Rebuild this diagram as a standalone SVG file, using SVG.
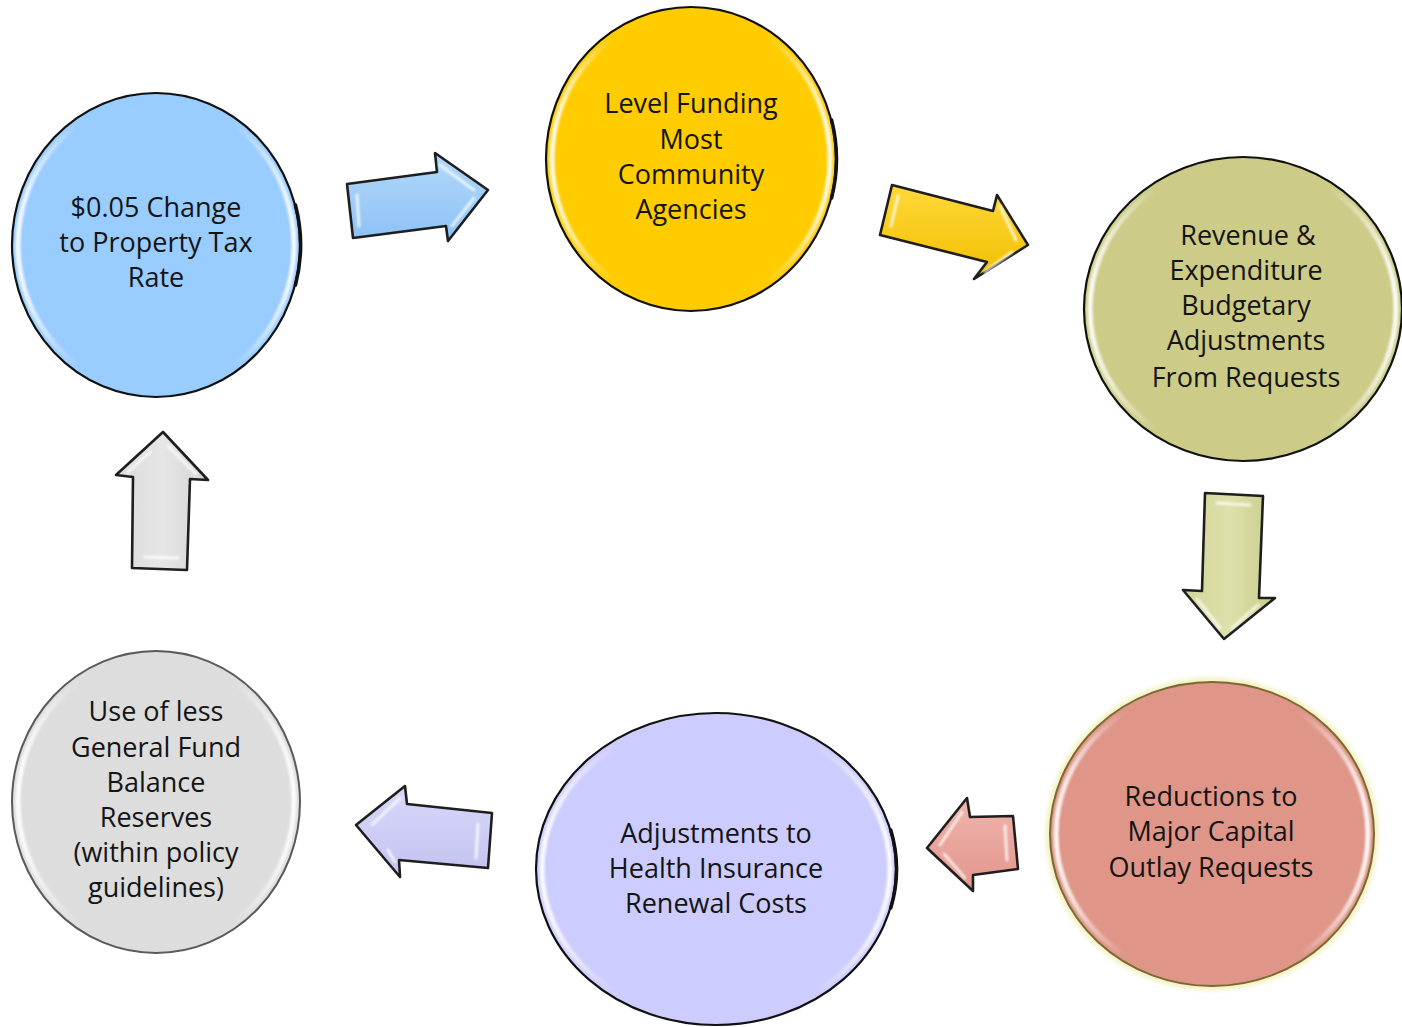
<svg xmlns="http://www.w3.org/2000/svg" width="1402" height="1027" viewBox="0 0 1402 1027">
<defs>
<style>
.lbl{font-family:"Open Sans","Noto Sans","Liberation Sans",sans-serif;font-size:27px;fill:#141414;text-anchor:middle}
.rim{fill:none;stroke:url(#rimG);stroke-width:5;filter:url(#soft)}
.arr{stroke:#1e1e1e;stroke-width:2.6;stroke-linejoin:round}
.gl{fill:none;stroke:#fff;stroke-opacity:0.75;stroke-width:3;stroke-linecap:round;filter:url(#soft)}
.shd{fill:none;stroke:#111;stroke-width:3.5;stroke-linecap:round}
</style>
<filter id="soft" x="-10%" y="-10%" width="120%" height="120%"><feGaussianBlur stdDeviation="1.3"/></filter>
<filter id="glow" x="-10%" y="-10%" width="120%" height="120%"><feGaussianBlur stdDeviation="2.5"/></filter>
<linearGradient id="rimG" x1="0" y1="0" x2="1" y2="0">
<stop offset="0" stop-color="#fff" stop-opacity="0.9"/>
<stop offset="0.22" stop-color="#fff" stop-opacity="0"/>
<stop offset="0.78" stop-color="#fff" stop-opacity="0"/>
<stop offset="1" stop-color="#fff" stop-opacity="0.9"/>
</linearGradient>
<linearGradient id="gBlue" x1="0" y1="0" x2="0" y2="1"><stop offset="0" stop-color="#B4D8FB"/><stop offset="1" stop-color="#8CC2F4"/></linearGradient>
<linearGradient id="gYel" x1="0" y1="0" x2="0" y2="1"><stop offset="0" stop-color="#FFD93A"/><stop offset="1" stop-color="#F1BE00"/></linearGradient>
<linearGradient id="gOli" x1="0" y1="0" x2="1" y2="0"><stop offset="0" stop-color="#D2D596"/><stop offset="0.5" stop-color="#DDE0AA"/><stop offset="1" stop-color="#CACD8C"/></linearGradient>
<linearGradient id="gPink" x1="0" y1="0" x2="0" y2="1"><stop offset="0" stop-color="#F0B4AC"/><stop offset="1" stop-color="#E2958C"/></linearGradient>
<linearGradient id="gPur" x1="0" y1="0" x2="0" y2="1"><stop offset="0" stop-color="#D8D8FB"/><stop offset="1" stop-color="#C2C2F0"/></linearGradient>
<linearGradient id="gGray" x1="0" y1="0" x2="1" y2="0"><stop offset="0" stop-color="#DADADA"/><stop offset="0.5" stop-color="#E6E6E6"/><stop offset="1" stop-color="#D4D4D4"/></linearGradient>
</defs>
<rect width="1402" height="1027" fill="#fff"/>

<g id="connectors">
<g id="arrow-blue">
<path class="arr" fill="url(#gBlue)" d="M347,184 L437,172 L435,153 L488,190 L448,241 L446,226 L353,238 Z"/>
<path class="gl" d="M357,195 L359,226 M440,165 L474,190 M452,226 L474,198"/>
</g>
<g id="arrow-yellow">
<path class="arr" fill="url(#gYel)" d="M892,185 L993,211 L997,195 L1028,245 L974,279 L987,262 L880,235 Z"/>
<path class="gl" d="M898,196 L891,226 M1000,206 L1016,240 M985,272 L1012,252"/>
</g>
<g id="arrow-olive">
<path class="arr" fill="url(#gOli)" d="M1205,493 L1263,496 L1259,598 L1275,598 L1224,639 L1183,590 L1202,591 Z"/>
<path class="gl" d="M1217,503 L1250,505 M1197,599 L1220,628 M1232,628 L1258,605"/>
</g>
<g id="arrow-pink">
<path class="arr" fill="url(#gPink)" d="M1013,816 L970,817 L967,798 L927,848 L973,891 L973,875 L1018,869 Z"/>
<path class="gl" d="M1005,826 L1007,860 M962,812 L940,845 M944,854 L965,878"/>
</g>
<g id="arrow-purple">
<path class="arr" fill="url(#gPur)" d="M492,813 L407,804 L405,786 L356,825 L400,877 L399,860 L488,868 Z"/>
<path class="gl" d="M478,824 L476,858 M400,798 L372,825 M388,850 L395,862"/>
</g>
<g id="arrow-gray">
<path class="arr" fill="url(#gGray)" d="M163,432 L208,480 L190,479 L187,570 L132,568 L133,477 L116,475 Z"/>
<path class="gl" d="M168,446 L196,474 M145,557 L178,558 M128,472 L150,452"/>
</g>
</g>

<g id="node-tax">
<ellipse cx="156" cy="245" rx="144" ry="152" fill="#99CCFF" stroke="#111" stroke-width="2.2"/>
<ellipse class="rim" cx="156" cy="245" rx="138" ry="146"/>
<path class="shd" d="M295.5,205 A144,152 0 0 1 295.5,285"/>
<text class="lbl" x="156" y="217">$0.05 Change</text>
<text class="lbl" x="156" y="252">to Property Tax</text>
<text class="lbl" x="156" y="287">Rate</text>
</g>

<g id="node-funding">
<ellipse cx="691" cy="159" rx="145" ry="152" fill="#FFCC00" stroke="#111" stroke-width="2.2"/>
<ellipse class="rim" cx="691" cy="159" rx="139" ry="146"/>
<path class="shd" d="M831.6,120 A145,152 0 0 1 831.6,198"/>
<text class="lbl" x="691" y="113">Level Funding</text>
<text class="lbl" x="691" y="149">Most</text>
<text class="lbl" x="691" y="184">Community</text>
<text class="lbl" x="691" y="219">Agencies</text>
</g>

<g id="node-revenue">
<ellipse cx="1243" cy="309" rx="159" ry="152" fill="#CCCC88" stroke="#111" stroke-width="2.2"/>
<ellipse class="rim" cx="1243" cy="309" rx="153" ry="146"/>
<text class="lbl" x="1248" y="245">Revenue &amp;</text>
<text class="lbl" x="1246" y="280">Expenditure</text>
<text class="lbl" x="1246" y="315">Budgetary</text>
<text class="lbl" x="1246" y="350">Adjustments</text>
<text class="lbl" x="1246" y="387">From Requests</text>
</g>

<g id="node-capital">
<ellipse cx="1212" cy="834" rx="163" ry="153" fill="none" stroke="#F2EFB8" stroke-width="6" filter="url(#glow)"/>
<ellipse cx="1212" cy="834" rx="162" ry="152" fill="#DF9688" stroke="#7A6A30" stroke-width="2"/>
<ellipse class="rim" cx="1212" cy="834" rx="156" ry="146"/>
<text class="lbl" x="1211" y="806">Reductions to</text>
<text class="lbl" x="1211" y="841">Major Capital</text>
<text class="lbl" x="1211" y="877">Outlay Requests</text>
</g>

<g id="node-health">
<ellipse cx="716" cy="869" rx="180" ry="156" fill="#CCCCFF" stroke="#111" stroke-width="2.2"/>
<ellipse class="rim" cx="716" cy="869" rx="174" ry="150"/>
<path class="shd" d="M890.8,830 A180,156 0 0 1 890.8,908"/>
<text class="lbl" x="716" y="843">Adjustments to</text>
<text class="lbl" x="716" y="878">Health Insurance</text>
<text class="lbl" x="716" y="913">Renewal Costs</text>
</g>

<g id="node-reserves">
<ellipse cx="156" cy="802" rx="144" ry="151" fill="#DDDDDD" stroke="#5a5a5a" stroke-width="2"/>
<ellipse class="rim" cx="156" cy="802" rx="138" ry="145"/>
<text class="lbl" x="156" y="721">Use of less</text>
<text class="lbl" x="156" y="757">General Fund</text>
<text class="lbl" x="156" y="792">Balance</text>
<text class="lbl" x="156" y="827">Reserves</text>
<text class="lbl" x="156" y="862">(within policy</text>
<text class="lbl" x="156" y="897">guidelines)</text>
</g>
</svg>
